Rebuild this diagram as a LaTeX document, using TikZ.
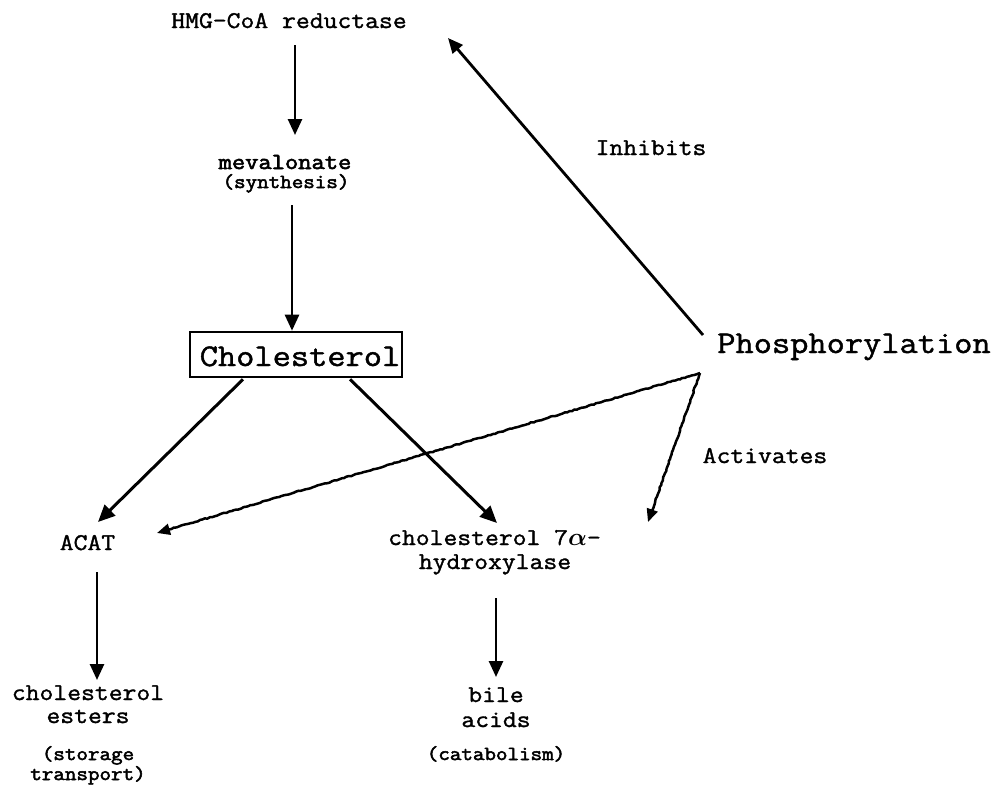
\documentclass[tikz,border=0pt]{standalone}
\usepackage{fontspec}
\setmonofont{Latin Modern Mono}[FakeStretch=1.12, FakeBold=1.4]
\newfontfamily\monobold{Latin Modern Mono}[FakeStretch=1.12, FakeBold=2.6]
\usetikzlibrary{arrows.meta,calc,decorations.pathmorphing}
\newcommand\setfs[1]{\fontsize{#1}{#1}\selectfont}
\begin{document}
\begin{tikzpicture}[x=1pt,y=-1pt,
  lbl/.style={inner sep=0pt, anchor=base, font=\ttfamily\setfs{24}},
  note/.style={inner sep=0pt, anchor=base, font=\monobold\setfs{20}},
  big/.style={inner sep=0pt, anchor=base, font=\ttfamily\setfs{31.6}},
  flow/.style={line width=2.6pt, -{Triangle[length=16pt,width=14pt]}},
  diag/.style={line width=3pt, -{Triangle[length=17pt,width=15pt]}},
  signal/.style={line width=2.5pt, decorate,
    decoration={random steps, segment length=2.5pt, amplitude=0.5pt, pre length=1pt, post length=12pt},
    -{Triangle[length=13pt,width=11pt]}},
  inhib/.style={line width=2.8pt, -{Triangle[length=15pt,width=13pt]}}
]
\useasboundingbox (0,0) rectangle (1002,788);
\fill[white] (0,0) rectangle (1002,788);

% synthesis branch
\node[lbl] (hmg) at (289,28) {HMG-CoA reductase};
\node[lbl,font=\monobold\setfs{23}] (meva) at (285,169) {mevalonate};
\node[note] (syn) at (286,188) {(synthesis)};

% central box
\node[draw, line width=2.6pt, minimum width=212pt, minimum height=45pt, inner sep=0pt] (chol) at (296,354.5) {};
\node[big] (choltext) at (300,366) {Cholesterol};

% esterification branch
\node[lbl] (acat) at (87.5,550) {ACAT};
\node[lbl] (ester1) at (88,700) {cholesterol};
\node[lbl] (ester2) at (88,723) {esters};
\node[note] (store1) at (88,760) {(storage};
\node[note] (store2) at (88,780) {transport)};

% catabolic branch
\node[lbl] (hyd) at (494.5,545) {cholesterol 7{\setfs{28}\mathversion{bold}$\alpha$}-};
\node[lbl] (hyd2) at (495,569) {hydroxylase};
\node[lbl] (bile1) at (496,702) {bile};
\node[lbl] (bile2) at (496,727) {acids};
\node[note] (cata) at (496,760) {(catabolism)};

% regulation
\node[big] (phos) at (854,353) {Phosphorylation};
\node[lbl] (inh) at (651,155) {Inhibits};
\node[lbl] (act) at (765,463) {Activates};

% pathway arrows
\draw[flow] ($(hmg.base)+(6,17)$) -- ($(meva.base)+(10,-34)$);
\draw[flow] ($(syn.base)+(6,17)$) -- ($(chol.north)+(-4,0)$);
\draw[diag] ($(chol.south)+(-53,1)$) -- ($(acat.base)+(10.5,-28)$);
\draw[diag] ($(chol.south)+(54,1)$) -- ($(hyd.base)+(2.5,-22)$);
\draw[flow] ($(acat.base)+(9.5,22)$) -- ($(ester1.base)+(9,-20)$);
\draw[flow] ($(hyd2.base)+(1,29)$) -- ($(bile1.base)+(0,-25)$);

% regulatory arrows
\draw[inhib] ($(phos.base)+(-151,-18)$) -- ($(hmg.base)+(159,10)$);
\draw[signal] ($(phos.base)+(-154,20)$) -- ($(acat.base)+(69.5,-17)$);
\draw[signal] ($(phos.base)+(-154,20)$) -- ($(hyd.base)+(153.5,-23)$);
\end{tikzpicture}
\end{document}
